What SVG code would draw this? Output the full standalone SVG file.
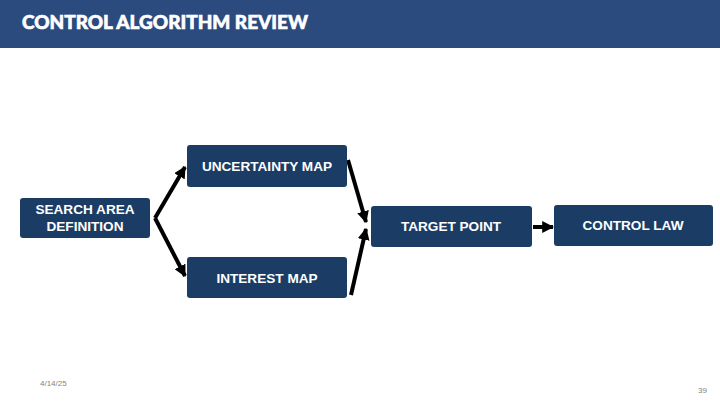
<svg xmlns="http://www.w3.org/2000/svg" width="720" height="405" viewBox="0 0 720 405">
  <defs>
    <style>
      .node rect { fill: #1b3c64; }
      .node text { fill: #ffffff; font-family: "Liberation Sans", Arial, sans-serif; font-weight: bold; font-size: 13.6px; text-anchor: middle; }
      .edge { stroke: #000000; stroke-width: 4; fill: none; marker-end: url(#head); }
      .foot { fill: #7f7f7f; font-family: "Liberation Sans", Arial, sans-serif; font-size: 8px; }
    </style>
    <marker id="head" viewBox="0 0 10 10" refX="9" refY="5" markerWidth="3" markerHeight="3" orient="auto" markerUnits="strokeWidth">
      <path d="M0,0 L10,5 L0,10 Z" fill="#000000"/>
    </marker>
  </defs>

  <rect x="0" y="0" width="720" height="405" fill="#ffffff"/>

  <!-- title bar -->
  <rect x="0" y="0" width="720" height="48" fill="#2b4a7e"/>
  <text x="22" y="29" font-family="Lato, 'Open Sans', sans-serif" font-weight="900" font-size="18" fill="#ffffff" stroke="#ffffff" stroke-width="0.6" textLength="286" lengthAdjust="spacingAndGlyphs">CONTROL ALGORITHM REVIEW</text>

  <!-- connectors -->
  <g id="connectors">
    <line class="edge" x1="155" y1="218" x2="185" y2="167"/>
    <line class="edge" x1="155" y1="218" x2="185" y2="276"/>
    <line class="edge" x1="348" y1="160" x2="366" y2="222"/>
    <line class="edge" x1="351" y1="295" x2="366" y2="229"/>
    <line class="edge" x1="533" y1="227" x2="553" y2="227"/>
  </g>

  <!-- nodes -->
  <g id="search-area" class="node">
    <rect x="20" y="198" width="130" height="40" rx="3"/>
    <text x="85" y="214">SEARCH AREA</text>
    <text x="85" y="231">DEFINITION</text>
  </g>
  <g id="uncertainty-map" class="node">
    <rect x="187" y="145" width="160" height="42" rx="3"/>
    <text x="267" y="171">UNCERTAINTY MAP</text>
  </g>
  <g id="interest-map" class="node">
    <rect x="187" y="257" width="160" height="41" rx="3"/>
    <text x="267" y="283">INTEREST MAP</text>
  </g>
  <g id="target-point" class="node">
    <rect x="371" y="206" width="161" height="41" rx="3"/>
    <text x="451" y="231">TARGET POINT</text>
  </g>
  <g id="control-law" class="node">
    <rect x="554" y="205" width="159" height="41" rx="3"/>
    <text x="633" y="230">CONTROL LAW</text>
  </g>

  <!-- footer -->
  <text class="foot" x="40" y="386">4/14/25</text>
  <text class="foot" x="698" y="393">39</text>
</svg>
